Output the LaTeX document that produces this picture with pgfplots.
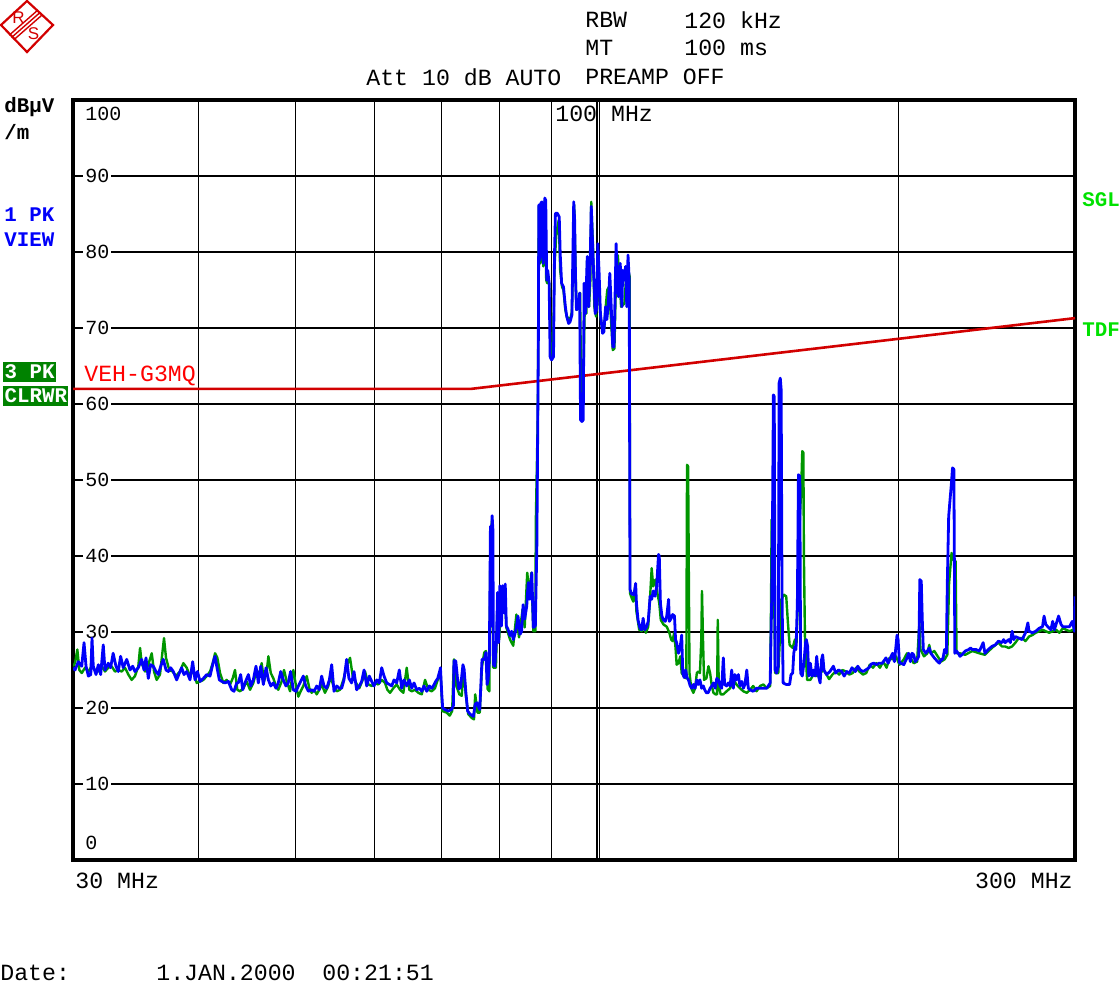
\documentclass[border=0pt]{standalone}
\usepackage{fontspec}
\setmainfont{Liberation Mono}
\newfontfamily\logofont{Liberation Sans}
\usepackage{pgfplots}
\usepackage{pgfplotstable}
\pgfplotsset{compat=1.18}
\definecolor{trblue}{RGB}{0,0,250}
\definecolor{trgreen}{RGB}{0,150,0}
\definecolor{lblgreen}{RGB}{0,225,0}
\definecolor{boxgreen}{RGB}{0,130,0}
\definecolor{rsred}{RGB}{210,0,0}
\newcommand\hdr{\fontsize{11.6pt}{13pt}\selectfont}
\newcommand\lbl{\fontsize{10.4pt}{12pt}\selectfont\bfseries}
\newcommand\tck{\fontsize{10pt}{12pt}\selectfont}

\pgfplotstableread{
f L
30.0 25.3
30.14 25.0
30.37 26.1
30.61 25.5
30.77 28.6
30.91 25.5
31.08 24.2
31.25 24.4
31.34 29.2
31.43 25.5
31.63 24.4
31.80 25.7
31.97 24.4
32.16 28.3
32.29 25.0
32.53 25.9
32.71 25.3
32.90 27.2
33.11 25.5
33.29 24.8
33.47 26.8
33.67 25.3
33.94 26.4
34.20 25.0
34.41 25.5
34.59 24.8
34.86 25.3
35.13 26.4
35.32 25.0
35.48 26.6
35.67 23.9
35.86 25.7
36.08 25.5
36.31 24.8
36.50 24.4
36.70 25.5
36.92 26.4
37.15 25.0
37.35 24.8
37.55 25.3
37.78 24.8
38.07 23.7
38.31 24.6
38.51 25.3
38.72 24.4
38.96 24.8
39.26 23.7
39.50 26.1
39.71 23.7
39.93 24.8
40.18 23.5
40.48 23.9
40.79 24.4
41.10 24.2
41.42 26.1
41.58 26.8
41.74 25.5
41.99 23.7
42.22 23.5
42.54 23.3
42.87 23.5
43.20 22.4
43.43 22.2
43.70 23.3
43.86 23.3
44.10 24.4
44.31 22.4
44.54 23.3
44.89 24.4
45.14 22.9
45.40 23.7
45.68 25.5
45.93 23.3
46.18 25.5
46.46 23.1
46.75 25.3
47.00 23.7
47.26 22.9
47.54 23.3
47.83 22.6
48.08 23.3
48.35 24.8
48.64 23.7
48.93 22.9
49.19 23.3
49.46 24.8
49.77 22.4
50.08 22.2
50.35 22.9
50.62 23.5
50.93 24.2
51.21 22.9
51.52 22.2
51.92 22.4
52.20 22.2
52.52 22.9
52.83 22.4
53.12 24.2
53.41 22.9
53.74 22.6
54.07 23.7
54.36 25.7
54.65 22.2
54.99 22.9
55.32 22.6
55.62 22.6
55.92 23.7
56.26 26.4
56.56 23.9
56.91 23.3
57.22 24.8
57.57 22.4
57.92 22.9
58.24 23.5
58.56 25.0
58.92 22.9
59.27 24.2
59.60 23.5
59.91 22.9
60.29 23.7
60.65 23.3
60.98 25.3
61.31 24.2
61.69 23.3
62.06 23.1
62.40 22.9
62.73 23.7
63.12 23.3
63.50 25.0
63.85 22.6
64.19 23.7
64.59 22.9
64.98 23.7
65.34 22.6
65.69 23.3
66.09 22.4
66.49 22.6
66.86 22.2
67.21 22.9
67.63 22.2
68.03 22.9
68.41 22.6
68.66 22.9
69.04 23.5
69.36 23.9
69.73 25.0
69.8 25.3
70.0 22.0
70.15 20.0
70.5 19.8
71.1 19.6
71.6 19.8
71.9 20.3
72.0 26.2
72.3 26.2
72.6 23.8
72.8 22.5
73.1 22.7
73.5 25.7
73.7 25.1
74.0 22.0
74.3 19.6
74.7 19.2
75.3 18.9
75.6 20.5
75.9 20.7
76.4 19.8
76.8 26.4
77.2 26.4
77.5 27.3
77.7 23.1
77.9 23.8
78.1 26.8
78.3 43.9
78.4 30.8
78.6 45.3
78.75 43.5
78.85 25.7
79.1 25.5
79.4 29.0
79.6 35.2
79.8 28.6
80.0 36.1
80.3 30.8
80.5 36.1
80.8 32.5
81.0 36.3
81.2 30.8
81.5 30.4
81.9 29.5
82.2 30.1
82.5 29.0
82.8 29.7
83.1 30.6
83.4 32.1
83.8 29.7
84.1 30.1
84.4 33.6
84.7 31.7
85.1 33.4
85.4 36.5
85.7 34.3
86.1 37.8
86.4 30.6
86.8 30.8
87.1 41.3
87.4 68.0
87.5 86.2
87.7 78.9
87.9 86.4
88.1 86.6
88.4 78.5
88.7 87.1
88.9 86.8
89.1 76.3
89.3 77.6
89.6 75.9
89.8 66.2
90.1 65.8
90.5 66.2
90.7 79.4
90.9 85.1
91.3 85.1
91.7 84.6
91.9 79.8
92.2 75.9
92.6 75.4
93.0 72.8
93.3 71.5
93.7 70.6
94.0 70.8
94.4 71.7
94.6 78.9
94.8 86.6
95.0 84.2
95.2 76.3
95.4 72.4
95.8 72.8
96.1 74.6
96.3 57.9
96.6 57.7
96.9 57.9
97.1 75.9
97.4 71.9
97.8 79.4
98.1 72.8
98.4 77.2
98.7 86.0
99.0 81.1
99.3 76.3
99.6 71.9
99.9 72.4
100.2 81.1
100.5 77.2
100.8 71.9
101.3 69.3
101.6 69.5
102.0 72.8
102.3 71.1
102.6 72.8
103.0 77.2
103.4 71.9
103.7 67.5
104.0 67.5
104.2 72.8
104.5 81.1
104.8 76.3
105.1 74.1
105.5 78.5
105.9 72.8
106.1 77.6
106.4 76.3
106.8 78.1
107.1 72.8
107.4 79.6
107.7 76.3
107.9 35.6
108.3 35.0
108.9 34.9
109.3 36.4
109.5 33.8
109.9 31.6
110.4 30.5
110.8 30.3
111.2 31.8
111.6 30.3
112.1 30.7
112.5 31.4
113.0 34.7
113.4 34.3
113.8 35.4
114.3 34.7
114.7 36.0
115.2 40.2
115.4 40.0
115.7 33.8
116.1 32.1
116.5 31.6
117.0 31.4
117.4 32.1
117.9 34.3
118.1 31.4
118.6 31.8
119.0 32.3
119.5 32.1
119.8 29.0
120.1 28.6
120.6 27.2
121.1 28.1
121.5 29.6
121.8 24.6
122.2 24.0
122.6 25.0
123.0 24.0
123.4 23.7
123.9 22.9
124.4 22.6
124.8 23.1
125.3 22.6
125.8 23.7
126.2 23.1
126.7 23.7
127.2 22.6
127.7 22.9
128.1 22.4
128.6 22.0
129.1 22.0
129.7 22.6
130.2 22.9
130.7 23.3
131.2 22.6
131.7 23.9
132.2 23.7
132.7 22.9
133.2 22.6
133.7 26.6
134.1 23.1
134.7 22.9
135.2 23.3
135.8 22.9
136.3 25.0
136.8 22.6
137.3 24.4
137.8 23.7
138.4 24.4
138.9 22.9
139.5 23.5
140.0 22.6
140.5 23.1
141.1 25.0
141.6 22.6
142.2 22.4
143.2 22.2
144.3 22.6
145.5 22.6
146.6 22.6
147.7 22.6
148.6 23.1
148.9 23.3
149.4 33.8
149.7 44.8
150.0 61.2
150.3 61.0
150.6 25.0
151.1 24.6
151.7 25.5
152.0 62.8
152.4 63.4
152.7 61.9
153.0 35.6
153.4 23.3
154.5 23.1
155.7 23.1
156.2 24.4
156.8 24.6
157.2 27.2
157.6 28.1
158.0 27.7
158.5 33.8
158.9 50.7
159.4 50.5
159.7 24.6
160.3 24.2
160.9 25.9
161.5 28.6
161.8 29.0
162.3 28.1
162.7 24.2
163.3 25.9
163.9 24.2
164.5 25.0
165.1 24.2
165.7 26.8
166.4 24.2
167.0 23.3
167.6 26.4
168.0 27.0
168.5 25.0
169.5 24.4
170.8 24.8
172.2 25.5
173.1 24.6
174.2 25.0
175.5 24.8
176.5 24.2
177.6 24.8
178.6 24.6
179.7 25.3
181.1 24.8
182.1 25.5
183.2 25.0
184.4 24.8
185.4 25.0
186.9 25.3
187.9 25.8
189.0 25.9
190.1 25.7
191.3 25.9
192.7 25.9
194.3 26.6
195.3 25.9
196.6 26.8
197.3 27.2
198.1 26.1
198.8 28.1
199.3 29.6
199.8 29.0
200.4 25.9
201.0 25.9
202.4 25.7
203.9 26.6
204.7 27.2
205.5 26.1
206.3 27.2
207.1 27.0
207.8 26.1
208.7 26.4
209.5 26.8
210.0 36.9
210.7 36.7
211.2 31.6
211.7 27.7
212.9 27.2
213.7 27.5
214.6 27.9
215.4 27.2
217.1 26.6
218.8 26.1
219.7 25.9
220.5 26.4
221.4 26.4
222.3 27.7
223.2 27.2
223.7 36.4
224.4 45.2
225.1 47.4
225.7 49.2
226.4 51.6
227.1 51.4
227.6 27.2
228.5 27.5
229.4 27.2
230.3 26.8
231.3 27.0
233.1 27.5
235.0 27.7
236.0 27.9
236.9 27.7
238.9 27.7
240.8 27.5
242.0 28.1
242.9 28.6
243.9 27.2
245.8 27.7
247.8 28.1
249.7 28.3
251.6 28.8
253.6 28.6
254.6 29.0
255.5 28.6
257.6 29.0
258.6 28.6
259.6 30.1
260.6 29.0
261.6 29.4
263.6 29.2
265.7 29.0
267.7 29.9
269.2 31.2
269.9 30.1
272.0 29.9
274.1 30.1
276.3 30.5
278.4 30.7
279.4 32.1
280.5 31.0
282.7 30.5
283.8 30.3
285.0 31.4
286.1 30.3
287.2 31.0
288.9 32.1
290.5 31.0
291.7 30.7
293.9 30.7
296.2 30.7
298.1 31.4
299.7 30.1
300.0 34.7
}\bluetrace

\pgfplotstableread{
f L
30.0 25.5
30.14 25.9
30.30 27.7
30.44 25.0
30.61 24.6
30.84 25.3
31.08 24.8
31.31 25.5
31.55 25.0
31.80 24.8
32.04 25.5
32.29 24.8
32.53 25.3
32.78 25.5
33.04 24.8
33.29 25.0
33.55 24.8
33.81 25.3
34.07 24.4
34.33 23.7
34.59 24.2
34.86 25.5
35.00 27.9
35.13 25.9
35.40 24.8
35.67 25.7
35.95 27.2
36.14 24.8
36.36 23.7
36.64 24.4
36.98 29.2
37.15 26.6
37.43 25.0
37.72 24.8
38.01 24.2
38.36 24.8
38.66 25.9
38.96 25.3
39.26 24.2
39.56 25.0
39.87 23.3
40.18 23.5
40.48 23.7
40.79 24.2
41.10 24.8
41.36 25.9
41.58 27.2
41.80 26.6
42.06 24.6
42.38 23.3
42.70 23.7
43.04 23.1
43.30 23.9
43.53 25.0
43.76 22.4
44.03 22.2
44.37 22.6
44.71 23.5
45.06 22.4
45.40 23.3
45.75 25.0
46.03 24.2
46.28 25.9
46.53 23.5
46.82 24.8
47.00 26.8
47.26 24.6
47.54 23.9
47.83 22.9
48.08 22.4
48.46 23.5
48.72 25.0
49.02 23.5
49.40 22.2
49.77 25.0
50.08 22.9
50.35 21.5
50.62 22.2
50.93 22.9
51.33 24.2
51.64 22.6
51.92 22.0
52.20 22.4
52.52 21.8
52.83 22.4
53.12 23.1
53.53 22.0
53.94 22.9
54.23 24.2
54.57 22.9
54.99 22.2
55.41 22.4
55.84 23.7
56.26 25.5
56.70 26.6
57.05 24.2
57.49 23.3
57.92 22.6
58.37 23.7
58.69 24.8
59.14 23.1
59.60 22.9
60.05 23.3
60.51 23.1
60.98 23.7
61.45 23.3
61.78 22.4
62.16 22.0
62.63 22.6
63.12 23.1
63.61 22.4
64.09 22.0
64.59 25.3
64.98 22.4
65.34 22.2
65.84 22.4
66.34 22.0
66.86 21.8
67.37 23.7
67.88 22.4
68.41 22.2
68.92 22.6
69.36 23.7
69.73 24.8
69.8 25.1
70.1 19.6
70.8 19.4
71.3 19.0
71.7 19.6
72.0 26.4
72.4 22.9
72.9 21.8
73.3 21.6
73.6 25.1
74.0 21.6
74.4 19.2
75.0 18.7
75.4 18.5
75.6 21.8
76.0 19.4
76.4 19.4
76.8 25.5
77.2 27.3
77.5 27.5
77.8 22.5
78.1 22.2
78.3 42.6
78.6 44.8
78.8 25.3
79.3 25.3
79.6 34.3
79.9 29.0
80.3 35.2
80.9 35.6
81.2 30.6
81.9 29.0
82.5 28.2
83.1 32.3
83.6 29.3
84.3 33.0
84.7 30.6
85.2 37.8
85.7 34.7
86.0 37.8
86.4 30.1
86.8 30.1
86.9 44.6
87.3 58.8
87.4 70.6
87.5 86.0
87.8 78.5
88.1 86.4
88.4 78.1
88.7 86.8
89.0 76.3
89.2 75.9
89.6 75.9
89.8 71.1
89.9 66.2
90.4 66.7
90.7 78.1
91.1 82.5
91.6 84.2
91.9 77.6
92.3 75.4
92.6 75.0
93.0 72.4
93.3 71.5
94.0 71.1
94.4 72.1
94.7 78.9
94.9 86.2
95.1 80.7
95.4 72.4
95.9 72.6
96.2 74.6
96.4 63.6
96.7 61.4
97.0 65.4
97.3 75.0
97.6 71.9
97.8 79.4
98.2 72.8
98.5 76.3
98.7 86.6
99.1 80.7
99.4 72.8
99.8 71.5
100.1 78.5
100.4 75.0
100.8 71.5
101.3 69.7
101.7 70.0
102.1 73.2
102.4 75.0
102.8 75.4
103.2 71.9
103.7 67.1
104.1 67.3
104.5 77.2
104.9 79.6
105.3 76.8
105.7 72.8
106.1 73.0
106.5 73.2
106.9 76.3
107.2 75.9
107.6 77.2
107.8 76.8
107.9 35.1
108.3 34.5
108.7 34.0
109.2 36.0
109.5 32.7
110.2 30.3
110.8 30.1
111.4 30.7
111.9 29.9
112.5 30.7
113.0 34.7
113.4 38.4
113.8 36.0
114.4 36.9
114.9 35.1
115.4 33.8
115.8 31.6
116.5 31.0
117.4 30.7
118.1 29.9
118.6 29.0
119.0 28.8
119.4 29.9
119.8 27.9
120.1 25.7
120.6 25.9
121.1 26.8
121.5 24.6
122.2 24.1
122.8 23.9
123.0 52.0
123.3 51.8
123.5 37.8
123.7 24.6
124.2 22.6
124.8 22.0
125.3 22.6
125.8 24.6
126.2 24.8
126.7 24.6
127.1 29.0
127.3 35.4
127.6 29.0
127.9 23.7
128.6 23.9
129.2 25.5
129.7 24.6
130.2 22.9
130.7 22.0
131.3 21.8
131.8 21.8
132.0 31.6
132.3 22.9
132.9 21.8
133.7 21.8
134.7 22.2
135.8 22.6
136.8 23.7
137.8 23.1
138.9 22.6
140.0 22.2
141.1 22.0
142.2 22.4
143.2 22.9
144.3 22.2
145.5 22.9
146.6 23.1
147.7 22.6
148.9 22.9
149.2 33.8
149.4 44.8
149.8 44.3
150.0 41.3
150.3 33.8
150.6 24.6
151.7 24.6
152.3 29.4
152.8 34.3
153.7 34.9
154.5 34.7
155.1 31.2
155.7 28.3
156.8 27.9
157.6 29.0
158.2 28.6
158.9 37.3
159.4 44.8
159.9 48.7
160.3 53.8
160.7 53.6
160.9 40.0
161.3 29.0
162.1 23.7
163.3 23.7
164.5 24.4
165.7 24.2
167.0 24.6
168.3 25.0
169.5 24.4
170.5 23.8
171.8 24.4
173.1 24.8
174.5 24.4
175.8 25.0
177.2 24.8
178.6 24.4
180.0 24.6
181.4 25.3
182.8 24.8
184.3 24.4
185.7 24.6
187.2 25.7
188.6 25.3
190.1 25.9
191.6 25.3
193.1 26.1
194.6 25.3
195.9 26.6
197.3 26.4
198.8 26.8
200.4 25.7
202.4 26.4
203.9 27.2
205.5 26.6
207.1 25.9
208.7 26.1
209.8 31.2
210.3 27.7
212.0 26.8
213.7 27.2
214.6 28.3
215.4 27.2
217.1 27.5
218.8 26.8
220.5 26.1
222.3 26.4
223.7 27.0
224.6 36.4
225.9 40.4
226.8 39.5
228.0 39.3
228.5 27.2
230.3 27.2
233.1 27.0
236.9 27.5
240.8 27.2
243.9 27.0
247.8 27.9
251.6 28.6
253.6 28.1
255.5 28.1
257.6 27.9
259.6 28.1
261.6 28.6
263.6 29.2
265.7 29.2
267.7 28.8
269.9 29.4
272.0 29.6
274.1 29.9
276.3 30.1
278.4 30.3
280.5 30.1
282.7 29.9
285.0 30.1
287.2 30.3
289.4 29.9
291.7 30.5
293.9 30.3
296.2 30.1
298.6 30.3
300.0 30.3
}\greentrace

\pgfplotstableread{
f L
30 62.0
75 62.0
300 71.3
}\limitline

\begin{document}
\begin{tikzpicture}
\path[use as bounding box] (0,0) rectangle (560pt,-493pt);
\begin{axis}[
  at={(36.5pt,-430pt)}, anchor=south west,
  scale only axis, width=501pt, height=380pt,
  xmode=log, xmin=30, xmax=300, ymin=0, ymax=100,
  axis line style={line width=1.8pt, black},
  xtick={40,50,60,70,80,90,100,200},
  xticklabel={\relax},
  extra x ticks={100.6},
  extra x tick style={xticklabel={\relax}},
  xminorgrids=false,
  ytick={10,20,30,40,50,60,70,80,90},
  yticklabels={10,20,30,40,50,60,70,80,90},
  grid=major,
  grid style={black, line width=0.55pt},
  major tick length=0pt, minor tick length=0pt,
  tick style={draw=none},
  yticklabel style={anchor=west, xshift=5pt, fill=white, inner sep=1pt, font=\tck},
  /pgf/number format/assume math mode=true,
  clip=true,
]
\addplot[rsred, line width=1.3pt] table[x=f, y=L] {\limitline};
\addplot[trgreen, line width=1.2pt, line join=round] table[x=f, y=L] {\greentrace};
\addplot[trblue, line width=1.4pt, line join=round] table[x=f, y=L] {\bluetrace};
\node[anchor=west, xshift=5pt, inner sep=1pt, font=\tck] at (rel axis cs:0,0.982) {100};
\node[anchor=west, xshift=5pt, inner sep=1pt, font=\tck] at (rel axis cs:0,0.022) {0};
\end{axis}
\begin{scope}[x=0.5pt, y=-0.5pt]
  % logo
  \draw[rsred, line width=1.1pt] (27,1) -- (53,25) -- (27,52) -- (1,25) -- cycle;
  \foreach \o in {-2.3,0,2.3} {
    \draw[rsred, line width=0.7pt] ({40+\o},{12.5+\o}) -- ({11.5+\o},{37.5+\o});
  }
  \node[rsred, font=\logofont\fontsize{8.5pt}{8.5pt}\selectfont, inner sep=0pt] at (18.5,18) {R};
  \node[rsred, font=\logofont\fontsize{8.5pt}{8.5pt}\selectfont, inner sep=0pt] at (33.5,34) {S};
  % header
  \node[anchor=west, inner sep=0pt, font=\hdr] at (585,20) {RBW};
  \node[anchor=west, inner sep=0pt, font=\hdr] at (684,20) {120 kHz};
  \node[anchor=west, inner sep=0pt, font=\hdr] at (585,48) {MT};
  \node[anchor=west, inner sep=0pt, font=\hdr] at (684,48) {100 ms};
  \node[anchor=west, inner sep=0pt, font=\hdr] at (366,77) {Att 10 dB AUTO};
  \node[anchor=west, inner sep=0pt, font=\hdr] at (585,77) {PREAMP OFF};
  % left labels
  \node[anchor=west, inner sep=0pt, font=\lbl] at (4,107) {dBµV};
  \node[anchor=west, inner sep=0pt, font=\lbl] at (4,132) {/m};
  \node[anchor=west, inner sep=0pt, font=\lbl, text=trblue] at (4,215) {1 PK};
  \node[anchor=west, inner sep=0pt, font=\lbl, text=trblue] at (4,240) {VIEW};
  \node[anchor=west, inner xsep=0.6pt, inner ysep=1.6pt, font=\lbl, text=white, fill=boxgreen] at (3,372) {3 PK};
  \node[anchor=west, inner xsep=0.6pt, inner ysep=1.6pt, font=\lbl, text=white, fill=boxgreen] at (3,396) {CLRWR};
  % right labels
  \node[anchor=west, inner sep=0pt, font=\lbl, text=lblgreen] at (1082,200) {SGL};
  \node[anchor=west, inner sep=0pt, font=\lbl, text=lblgreen] at (1082,330) {TDF};
  % in-plot labels
  \node[anchor=west, inner sep=0pt, font=\hdr, text=red] at (84,376) {VEH-G3MQ};
  \node[anchor=west, inner sep=0pt, font=\hdr] at (555,114) {100 MHz};
  % bottom
  \node[anchor=west, inner sep=0pt, font=\hdr] at (75,881) {30 MHz};
  \node[anchor=east, inner sep=0pt, font=\hdr] at (1073,881) {300 MHz};
  \node[anchor=west, inner sep=0pt, font=\hdr] at (0,973) {Date:};
  \node[anchor=west, inner sep=0pt, font=\hdr] at (156,973) {1.JAN.2000};
  \node[anchor=west, inner sep=0pt, font=\hdr] at (322,973) {00:21:51};
\end{scope}
\end{tikzpicture}
\end{document}
